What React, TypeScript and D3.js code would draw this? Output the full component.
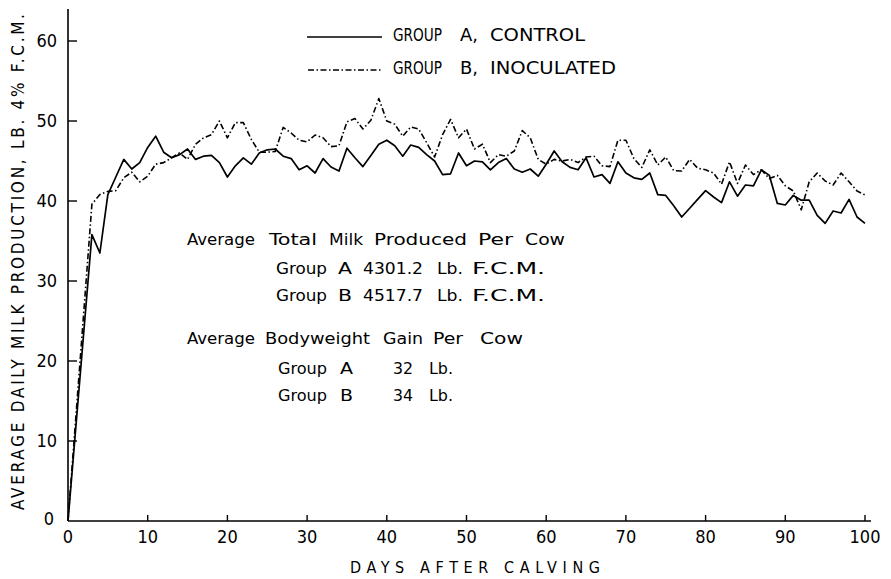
import * as d3 from "d3";

// days after calving (day 0 = calving, records start on day 3)
const days = [
  0, 3, 4, 5, 6, 7, 8, 9,
  10, 11, 12, 13, 14, 15, 16, 17, 18, 19,
  20, 21, 22, 23, 24, 25, 26, 27, 28, 29,
  30, 31, 32, 33, 34, 35, 36, 37, 38, 39,
  40, 41, 42, 43, 44, 45, 46, 47, 48, 49,
  50, 51, 52, 53, 54, 55, 56, 57, 58, 59,
  60, 61, 62, 63, 64, 65, 66, 67, 68, 69,
  70, 71, 72, 73, 74, 75, 76, 77, 78, 79,
  80, 81, 82, 83, 84, 85, 86, 87, 88, 89,
  90, 91, 92, 93, 94, 95, 96, 97, 98, 99, 100,
];

// Group A, control
const groupA = [
  0, 35.8, 33.5, 40.8, 43.0, 45.2, 44.0, 44.8,
  46.7, 48.1, 46.1, 45.4, 45.8, 46.5, 45.2, 45.6, 45.7, 44.8,
  43.0, 44.4, 45.4, 44.6, 46.0, 46.4, 46.5, 45.6, 45.3, 43.9,
  44.4, 43.5, 45.3, 44.25, 43.75, 46.6, 45.4, 44.3, 45.7, 47.1,
  47.6, 46.9, 45.6, 47.0, 46.7, 45.8, 45.0, 43.3, 43.4, 46.0,
  44.4, 45.0, 44.9, 43.9, 44.8, 45.3, 44.0, 43.6, 44.0, 43.1,
  44.6, 46.25, 44.9, 44.2, 43.9, 45.4, 43.0, 43.3, 42.2, 44.9,
  43.5, 42.9, 42.7, 43.5, 40.8, 40.7, 39.4, 38.0, 39.1, 40.2,
  41.3, 40.5, 39.8, 42.4, 40.6, 42.0, 41.9, 43.9, 43.2, 39.7,
  39.5, 40.7, 40.1, 40.1, 38.2, 37.2, 38.75, 38.5, 40.2, 38.0, 37.2,
];

// Group B, inoculated
const groupB = [
  0, 39.6, 40.8, 41.2, 41.3, 42.9, 43.6, 42.4,
  43.1, 44.6, 44.8, 45.4, 46.0, 45.2, 47.1, 47.9, 48.3, 50.0,
  47.9, 49.8, 49.8, 47.7, 46.1, 46.1, 46.2, 49.2, 48.5, 47.6,
  47.4, 48.25, 47.9, 46.8, 46.9, 49.9, 50.3, 49.0, 50.1, 52.8,
  50.0, 49.6, 48.1, 49.25, 49.0, 47.3, 45.5, 48.3, 50.2, 47.9,
  49.0, 46.5, 47.1, 44.8, 45.8, 45.6, 46.25, 48.8, 47.9, 45.2,
  44.6, 45.2, 45.0, 45.2, 44.8, 45.5, 45.6, 44.4, 44.3, 47.6,
  47.6, 45.3, 44.2, 46.4, 44.5, 45.5, 43.8, 43.75, 45.2, 44.1,
  43.9, 43.5, 42.1, 44.9, 42.2, 44.5, 43.3, 43.9, 42.8, 43.2,
  41.9, 41.25, 38.9, 42.4, 43.5, 42.5, 42.0, 43.5, 42.4, 41.25, 40.75,
];

const xTicks = [0, 10, 20, 30, 40, 50, 60, 70, 80, 90, 100];
const yTicks = [0, 10, 20, 30, 40, 50, 60];

const legendLabels = [
  ["GROUP", "A,", "CONTROL"],
  ["GROUP", "B,", "INOCULATED"],
];

// the lettered notes inside the plot, one array of words per row
const notes = [
  ["Average", "Total", "Milk", "Produced", "Per", "Cow"],
  ["Group", "A", "4301.2", "Lb.", "F.C.M."],
  ["Group", "B", "4517.7", "Lb.", "F.C.M."],
  ["Average", "Bodyweight", "Gain", "Per", "Cow"],
  ["Group", "A", "32", "Lb."],
  ["Group", "B", "34", "Lb."],
];

const font = "'DejaVu Sans Condensed', 'DejaVu Sans', sans-serif";

export default function App() {
  const width = 891;
  const height = 579;

  const x = d3.scaleLinear().domain([0, 100]).range([68, 865]);
  const y = d3.scaleLinear().domain([0, 64]).range([521, 9]);

  const line = d3
    .line<number>()
    .x((d, i) => x(days[i]))
    .y((d) => y(d));

  // word layout for the notes: [start x, end x] per word, baseline per row
  const noteBase = [245, 274, 301, 344, 374, 401];
  const noteSpans = [
    [[187, 255], [269, 317], [329, 363], [374, 467], [478, 513], [525, 565]],
    [[276, 327], [338, 352], [363, 423], [437, 463], [472, 545]],
    [[276, 327], [338, 352], [363, 423], [437, 463], [472, 545]],
    [[187, 255], [265, 370], [383, 423], [433, 463], [480, 523]],
    [[278, 327], [340, 353], [393, 413], [429, 453]],
    [[278, 327], [340, 353], [393, 413], [429, 453]],
  ];
  const legendSpans = [
    [[393, 442], [460, 478], [490, 585]],
    [[393, 442], [460, 478], [490, 616]],
  ];
  const legendY = [37, 70];

  return (
    <svg
      width={width}
      height={height}
      style={{ position: "absolute", left: 0, top: 0, background: "#fff" }}
      fontFamily={font}
    >
      <rect width={width} height={height} fill="#fff" />

      {/* axes */}
      <line x1={x(0)} x2={x(0)} y1={9} y2={y(0)} stroke="#000" strokeWidth={1.6} />
      <line x1={x(0)} x2={871} y1={y(0)} y2={y(0)} stroke="#000" strokeWidth={1.6} />

      {yTicks.map((t) => (
        <g key={"y" + t}>
          {t > 0 && (
            <line x1={x(0)} x2={x(0) + 9} y1={y(t)} y2={y(t)} stroke="#000" strokeWidth={1.4} />
          )}
          <text
            x={t === 0 ? 54 : 57}
            y={y(t) + (t === 0 ? 4 : 6)}
            textAnchor="end"
            fontSize={18}
            fill="#000"
          >
            {t}
          </text>
        </g>
      ))}

      {xTicks.map((t) => (
        <g key={"x" + t}>
          {t > 0 && (
            <line x1={x(t)} x2={x(t)} y1={y(0)} y2={y(0) - 6} stroke="#000" strokeWidth={1.4} />
          )}
          <text x={x(t)} y={543} textAnchor="middle" fontSize={18} fill="#000">
            {t}
          </text>
        </g>
      ))}

      <text
        x={475}
        y={573}
        textAnchor="middle"
        fontSize={16}
        textLength={250}
        lengthAdjust="spacing"
        fill="#000"
      >
        DAYS   AFTER   CALVING
      </text>

      <text
        transform="translate(24,262) rotate(-90)"
        textAnchor="middle"
        fontSize={17}
        textLength={496}
        lengthAdjust="spacing"
        fill="#000"
      >
        AVERAGE DAILY MILK PRODUCTION, LB. 4% F.C.M.
      </text>

      {/* data lines */}
      <path d={line(groupA) ?? ""} fill="none" stroke="#000" strokeWidth={1.7} strokeLinejoin="round" />
      <path
        d={line(groupB) ?? ""}
        fill="none"
        stroke="#000"
        strokeWidth={1.6}
        strokeDasharray="6 2.5 1.5 2.5"
        strokeLinejoin="round"
      />

      {/* legend */}
      <line x1={307} x2={382} y1={legendY[0]} y2={legendY[0]} stroke="#000" strokeWidth={1.6} />
      <line
        x1={308}
        x2={382}
        y1={legendY[1]}
        y2={legendY[1]}
        stroke="#000"
        strokeWidth={1.6}
        strokeDasharray="6 2.5 1.5 2.5"
      />
      {legendLabels.map((row, r) =>
        row.map((w, i) => (
          <text
            key={"l" + r + i}
            x={legendSpans[r][i][0]}
            y={legendY[r] + 4}
            fontSize={17}
            textLength={legendSpans[r][i][1] - legendSpans[r][i][0]}
            lengthAdjust="spacingAndGlyphs"
            fill="#000"
          >
            {w}
          </text>
        ))
      )}

      {/* notes */}
      {notes.map((row, r) =>
        row.map((w, i) => (
          <text
            key={"n" + r + i}
            x={noteSpans[r][i][0]}
            y={noteBase[r]}
            fontSize={16}
            textLength={noteSpans[r][i][1] - noteSpans[r][i][0]}
            lengthAdjust="spacingAndGlyphs"
            fill="#000"
          >
            {w}
          </text>
        ))
      )}
    </svg>
  );
}
